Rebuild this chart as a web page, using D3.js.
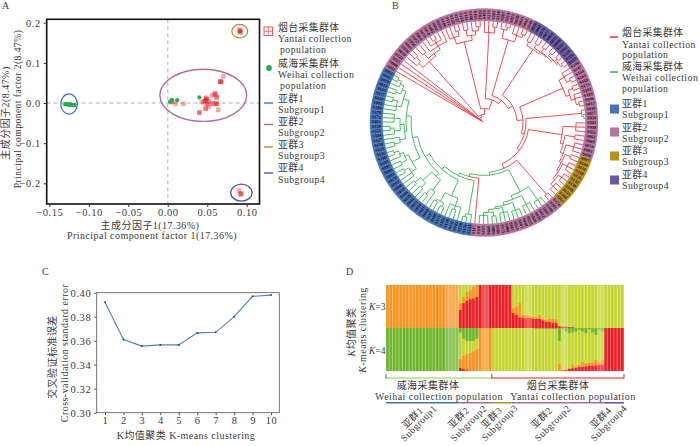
<!DOCTYPE html>
<html><head><meta charset="utf-8">
<script src="https://cdn.jsdelivr.net/npm/d3@7"></script>
<style>
html,body{margin:0;padding:0;background:#fff}
text{font-family:"Liberation Serif","Noto Sans CJK SC",serif;fill:#3a3a3a;letter-spacing:.45px}
</style></head><body><div id="c"></div>
<script>
// ---------- shared ----------
const sgColors = {1:"#4472b8",2:"#b5729d",3:"#b78f1b",4:"#6a58a6"};
const sgLine = {1:"#3f74b8",2:"#b0689a",3:"#b98a2a",4:"#5e4fa2"};
// ---------- panel A ----------
const yantaiX = [.0916,.0916,.0916,.0912,.092,.067,.067,.0665,.0675,.0705,.06,.06,.0595,.056,.062,.062,.0486,.0486,.049,.048,.046,.062,.062,.061,.057,.057,.049,.043,.052,.048,.048,.051,.064,.04,.04,.01,.02,.0925,.0925,.093,.09,.052,.05,.047,.006,.004];
const yantaiY = [.18,.18,.177,.182,.176,.053,.053,.054,.052,.0665,.022,.024,.021,.019,.013,.015,.011,.013,.009,.006,.005,-.002,-.002,-.001,-.002,-.001,-.002,.002,-.01,-.014,-.014,-.003,-.017,-.024,-.024,-.002,-.002,-.227,-.227,-.225,-.218,.004,.007,.003,.003,.002];
const weihaiX = [.005,.003,.005,.012,.04,-.13,-.129,-.128,-.127,-.126,-.125,-.124,-.123,-.122,-.121,-.12,-.119,-.118];
const weihaiY = [.006,.003,.008,.007,.014,-.003,-.003,-.003,-.003,-.004,-.004,-.004,-.004,-.004,-.005,-.005,-.005,-.005];
const ellipseCx = [-.125,.045,.0912,.0933];
const ellipseCy = [-.0025,.019,.179,-.2233];
const ellipseRx = [.0105,.055,.0101,.0135];
const ellipseRy = [.025,.065,.0167,.021];
const ellipseSg = [1,2,3,4];
const xTicksA = [-.15,-.10,-.05,0,.05,.10];
const yTicksA = [-.2,-.1,0,.1,.2];
// ---------- panel C ----------
const kValues = [1,2,3,4,5,6,7,8,9,10];
const cvError = [.392,.361,.3555,.3565,.3565,.3665,.367,.38,.397,.398];
const yTicksC = [.30,.32,.34,.36,.38,.40];
// ---------- panel D ----------
const k3Red = [0,0,0,0,0,0,0,0,0,0,0,0,0,0,0,0,0,0,0,0,0,0,.42,.58,.64,.67,.69,.73,1,1,1,1,1,1,1,1,1,1,.35,.31,.25,.23,.23,.23,.22,.21,.21,.18,.15,.15,.13,.115,.04,.03,.03,.02,.02,.01,0,0,0,0,0,0,0,0,0,0,0,0,0,0];
const k3Orange = [1,1,1,1,1,1,1,1,1,1,1,1,1,1,1,1,1,1,1,1,1,1,.16,.15,.21,.21,.27,.27,0,0,0,0,0,0,0,0,0,0,.11,.19,.33,.08,.08,.06,.04,.06,.09,.03,.04,.06,.08,.10,.02,.01,.01,.01,0,0,0,0,0,0,0,0,0,0,0,0,0,0,0,0];
const k4Red = [0,0,0,0,0,0,0,0,0,0,0,0,0,0,0,0,0,0,0,0,0,0,.08,.05,.03,0,0,0,0,0,0,0,0,0,0,0,0,0,0,0,0,0,0,0,0,0,0,0,0,0,0,0,0,.02,.03,.05,.065,.08,.1,.105,.11,.125,.13,.13,.14,.14,1,1,1,1,1,1];
const k4Orange = [0,0,0,0,0,0,0,0,0,0,0,0,0,0,0,0,0,0,0,0,0,0,.2,.31,.37,.42,.46,.52,1,1,1,1,0,0,0,0,0,0,0,0,0,0,0,0,0,0,0,0,0,0,0,0,.18,.01,.01,.015,.075,.03,.04,.11,.07,.075,.086,.134,.076,.116,0,0,0,0,0,0];
const k4Green = [1,1,1,1,1,1,1,1,1,1,1,1,1,1,1,1,1,1,1,1,1,1,.1,.25,.3,.3,.3,.25,0,0,0,0,0,0,0,0,0,0,0,0,0,0,0,0,0,.02,.02,.02,.02,.02,.02,.02,.3,.02,.08,.12,.1,.08,.04,.08,.12,.03,.1,.16,.04,.08,0,0,0,0,0,0];
const paleBars = [18,19,20,21,29,30,42,43,53,54,64,65];
const dSubgroups = [1,2,3,2,4];
const dCounts = [22,10,6,28,6];
const dPopCounts = [32,40];
// ---------- panel B ----------
const ringSubgroups = [2,4,2,3,2,1];
const ringCounts = [35,12,21,11,20,45];
const cladeA=['r',82,['r',88,'r',['r',94,'r','r']],['r',85,['r',91,'r','r'],['r',89,'r',['r',93,'r',['r',96,'r','r'],'r'],'r']]];
const cladeB=['r',83,['r',90,'r','r',['r',95,'r','r']],['r',88,['r',94,'r','r'],['r',92,'r',['r',96,'r','r']]]];
const cladeC1=['r',90,'r','r',['r',96,'r','r']];
const cladeC2=['r',86,['r',95,'r',['r',98,'r','r']],['r',93,'r','r',['r',96,'r','r']]];
const cladeD=['r',88,['r',92,'r','r'],['r',90,['r',94,'r','r'],['r',91,['r',95,'r','r'],['r',93,['r',96,'r','r'],['r',95,['r',97,'r','r'],['r',97,'r','r']]]]]];
const cladeE=['r',86,['r',92,'r','r',['r',96,'r','r']],['r',90,['r',95,'r','r'],['r',94,'r','r',['r',97,'r','r']]]];
const cladeM=['r',98,'r',['g',100,'g','g']];
const cladeF=['r',79,['r',92,'r','r','r'],['r',82,['r',92,'r','r'],['r',85,['r',93,'r','r','r'],['r',87,['r',93,'r','r'],['r',89,['r',94,'r','r','r'],['r',91,['r',95,'r','r','r'],['r',94,'r','r','r']]]]]]];
const cladeR2=['r',95,'r','r'];
const cladeG17=['g',78,['g',94,'g','g','g'],['g',82,['g',92,'g','g','g'],['g',85,['g',93,'g','g','g'],['g',87,['g',92,'g','g','g'],['g',90,['g',94,'g','g'],['g',93,'g','g','g']]]]]];
const b1=['g',93,'g',['g',96,'g','g']];
const b2=['g',80,['g',88,'g',['g',92,'g','g'],'g'],['g',90,['g',94,'g','g'],['g',92,'g','g']]];
const b3=['g',72,['g',85,'g',['g',92,'g','g']],['g',84,['g',90,'g','g'],['g',91,'g','g']]];
const b4=['g',82,['g',88,'g','g',['g',93,'g','g']],['g',86,['g',92,'g','g'],['g',90,'g',['g',95,'g','g']]]];
const b5=['g',80,['g',86,['g',92,'g','g'],'g'],['g',84,['g',90,'g',['g',94,'g','g']],['g',90,'g','g','g']]];
const b6=['g',84,['g',89,'g','g',['g',94,'g','g']],['g',88,['g',93,'g','g'],['g',92,'g',['g',96,'g','g']]]];
const blueClade=['g',59,b1,['g',63,b2,['g',68,b3,['g',73,b4,['g',78,b5,b6]]]]];
const treeRoot=['r',1.5,'r',['r',3,'r',['r',4.5,'r',['r',6,'r',['r',8,cladeA,['r',14,cladeB,['r',24,cladeC1,['r',28,cladeC2,['r',33,cladeD,['r',39,cladeE,['r',42,cladeM,['r',45,cladeF,['r',50,cladeR2,['g',53,cladeG17,['g',56,'r',blueClade]]]]]]]]]]]]]]];

// ---------- drawing ----------
const svg=d3.select("#c").append("svg").attr("width",700).attr("height",446).style("display","block");
const RED="#ee1c25",GRN="#22b14c";
function label(g,x,y,t,o={}){
  const n=g.append("text").attr("x",x).attr("y",y).attr("font-size",o.size||10.5).attr("text-anchor",o.anchor||"start").text(t);
  if(o.rot!==undefined) n.attr("transform",`rotate(${o.rot} ${x} ${y})`);
  if(o.ls!==undefined) n.style("letter-spacing",o.ls+"px");
  return n;
}
label(svg,2,9,"A",{size:10});label(svg,392,9,"B",{size:10});label(svg,42,275,"C",{size:10});label(svg,346,275,"D",{size:10});

// Panel A
{
 const g=svg.append("g");
 const x=d3.scaleLinear().domain([-.15,.10]).range([49.3,246.7]);
 const y=d3.scaleLinear().domain([-.2,.2]).range([183.3,22.7]);
 const L=46.7,R=259.5,T=19.3,B=204;
 g.append("line").attr("x1",x(0)).attr("x2",x(0)).attr("y1",T).attr("y2",B).attr("stroke","#c9c9c9").attr("stroke-width",1.4).attr("stroke-dasharray","4 3");
 g.append("line").attr("x1",L).attr("x2",R).attr("y1",y(0)).attr("y2",y(0)).attr("stroke","#c9c9c9").attr("stroke-width",1.4).attr("stroke-dasharray","4 3");
 g.selectAll("rect.y").data(yantaiX).join("rect").attr("class","y").attr("x",d=>x(d)-2.3).attr("y",(d,i)=>y(yantaiY[i])-2.3).attr("width",4.6).attr("height",4.6).attr("fill",RED).attr("fill-opacity",.38);
 g.selectAll("circle.w").data(weihaiX).join("circle").attr("class","w").attr("cx",d=>x(d)).attr("cy",(d,i)=>y(weihaiY[i])).attr("r",2.1).attr("fill",GRN);
 ellipseCx.forEach((c,i)=>{
  g.append("ellipse").attr("cx",x(c)).attr("cy",y(ellipseCy[i])).attr("rx",x(ellipseRx[i])-x(0)).attr("ry",y(0)-y(ellipseRy[i])).attr("fill","none").attr("stroke",sgLine[ellipseSg[i]]).attr("stroke-width",1.3);
 });
 g.append("rect").attr("x",L).attr("y",T).attr("width",R-L).attr("height",B-T).attr("fill","none").attr("stroke","#111").attr("stroke-width",1.6);
 const ax=g.append("g").attr("transform",`translate(0,${B})`).call(d3.axisBottom(x).tickValues(xTicksA).tickSize(3).tickFormat(d3.format(".2f")));
 const ay=g.append("g").attr("transform",`translate(${L},0)`).call(d3.axisLeft(y).tickValues(yTicksA).tickSize(3).tickFormat(d3.format(".1f")));
 [ax,ay].forEach(a=>{a.select(".domain").remove();a.selectAll(".tick line").attr("stroke","#333");a.selectAll("text").style("font-size","10.5px").style("letter-spacing",".55px")});
 ax.selectAll("text").attr("dy",".55em");
 label(g,150,229,"主成分因子1(17.36%)",{anchor:"middle",size:10});
 label(g,152,238.5,"Principal component factor 1(17.36%)",{anchor:"middle",size:10});
 label(g,9,113,"主成分因子2(8.47%)",{anchor:"middle",size:10,rot:-90});
 label(g,21,109,"Principal component factor 2(8.47%)",{anchor:"middle",size:9.6,rot:-90});
 // legend
 const lg=g.append("g");
 const sq=lg.append("g").attr("transform","translate(264,27)");
 sq.append("rect").attr("width",8.5).attr("height",8.5).attr("fill","#fff").attr("stroke","#f0555b");
 sq.append("path").attr("d","M4.25 0V8.5M0 4.25H8.5").attr("stroke","#f0555b").attr("stroke-width",.8);
 lg.append("circle").attr("cx",269).attr("cy",68).attr("r",2.9).attr("fill",GRN);
 [["烟台采集群体",278,31],["Yantai collection",278,42],["population",280,53],["威海采集群体",278,67],["Weihai collection",278,78],["population",280,89],["亚群1",278,102],["Subgroup1",278,113],["亚群2",278,125],["Subgroup2",278,136],["亚群3",278,148],["Subgroup3",278,159],["亚群4",278,171],["Subgroup4",278,183]].forEach(t=>label(lg,t[1],t[2],t[0],{size:9.8}));
 [[1,103],[2,124.5],[3,147],[4,173]].forEach(d=>lg.append("line").attr("x1",264).attr("x2",273).attr("y1",d[1]).attr("y2",d[1]).attr("stroke",sgLine[d[0]]).attr("stroke-width",1.4));
}

// Panel B
{
 const cx=484,cy=122.5,rIn=101.5,rOut=114;
 const g=svg.append("g").attr("transform",`translate(${cx},${cy})`);
 let leaves=[];
 const build=(n,par)=>{
  if(typeof n==="string"){const o={c:n,r:rIn,par,leaf:true};o.i=leaves.length;leaves.push(o);return o;}
  const o={c:n[0],r:n[1],par,ch:[]};
  n.slice(2).forEach(k=>o.ch.push(build(k,o)));
  return o;
 };
 const root=build(treeRoot,null);
 const N=leaves.length;
 const angS=d3.scaleLinear().domain([0,N]).range([299,659]);
 const setA=o=>{ if(o.leaf){o.a=angS(o.i+.5);} else {o.ch.forEach(setA);o.a=d3.mean(o.ch,k=>k.a);} };
 setA(root);
 const rad=d=>d*Math.PI/180;
 const pt=(r,a)=>[r*Math.sin(rad(a)),-r*Math.cos(rad(a))];
 const links=[];
 const walk=o=>{ (o.ch||[]).forEach(k=>{
   const p=d3.path();
   const a1=rad(o.a-90),a2=rad(k.a-90);
   const s=pt(o.r,o.a);p.moveTo(s[0],s[1]);
   p.arc(0,0,o.r,a1,a2,k.a<o.a);
   const e=pt(k.r,k.a);p.lineTo(e[0],e[1]);
   links.push({d:p.toString(),c:k.c});
   walk(k);
 });};
 walk(root);
 g.selectAll("path.l").data(links.filter(d=>d.c==="g")).join("path").attr("class","l").attr("d",d=>d.d).attr("fill","none").attr("stroke","#35b34f").attr("stroke-width",.9);
 g.selectAll("path.m").data(links.filter(d=>d.c==="r")).join("path").attr("class","m").attr("d",d=>d.d).attr("fill","none").attr("stroke","#ee3a43").attr("stroke-width",.9);
 // ring
 const sgOf=[];ringSubgroups.forEach((s,i)=>{for(let k=0;k<ringCounts[i];k++)sgOf.push(s);});
 const arc=d3.arc().innerRadius(rIn).outerRadius(rOut);
 g.selectAll("path.c").data(leaves).join("path").attr("class","c")
  .attr("d",d=>arc({startAngle:rad(angS(d.i)),endAngle:rad(angS(d.i+1))}))
  .attr("fill",d=>sgColors[sgOf[d.i]||2]).attr("stroke",d=>sgColors[sgOf[d.i]||2]).attr("stroke-width",.3);
 g.selectAll("text.s").data(leaves).join("text").attr("class","s")
  .attr("transform",d=>{const a=d.a;const p=pt((rIn+rOut)/2,a);const flip=((a%360)>180);return `translate(${p[0]},${p[1]}) rotate(${flip?a+90:a-90})`;})
  .attr("text-anchor","middle").attr("dominant-baseline","middle").style("font-size","4.4px").style("letter-spacing","0").style("font-weight","bold")
  .style("fill","#1b1420").text(d=>"S"+String(d.i*7%190+1).padStart(3,"0"));
 // legend
 const lg=svg.append("g");
 [["烟台采集群体",622,36],["Yantai collection",622,47.5],["population",622,58],["威海采集群体",622,70],["Weihai collection",622,81],["population",622,92],["亚群1",622,107],["Subgroup1",622,118],["亚群2",622,131],["Subgroup2",622,142],["亚群3",622,154],["Subgroup3",622,165],["亚群4",622,178],["Subgroup4",622,189]].forEach(t=>label(lg,t[1],t[2],t[0],{size:9.8}));
 lg.append("line").attr("x1",610).attr("x2",618).attr("y1",37).attr("y2",37).attr("stroke",RED).attr("stroke-width",1.4);
 lg.append("line").attr("x1",610).attr("x2",618).attr("y1",72).attr("y2",72).attr("stroke",GRN).attr("stroke-width",1.4);
 [[1,109],[2,132],[3,156],[4,180]].forEach(d=>lg.append("rect").attr("x",610).attr("y",d[1]-4.5).attr("width",9).attr("height",9).attr("fill",sgColors[d[0]]));
}

// Panel C
{
 const g=svg.append("g");
 const x=d3.scaleLinear().domain([1,10]).range([105,271]);
 const y=d3.scaleLinear().domain([.3,.4]).range([412.7,292.7]);
 const L=96.7,R=279.3,T=292.7,B=412.7;
 g.append("rect").attr("x",L).attr("y",T).attr("width",R-L).attr("height",B-T).attr("fill","none").attr("stroke","#666").attr("stroke-width",.9);
 g.append("path").attr("d",d3.line().x((d,i)=>x(kValues[i])).y(d=>y(d))(cvError)).attr("fill","none").attr("stroke","#4a84bb").attr("stroke-width",1.1);
 g.selectAll("circle").data(cvError).join("circle").attr("cx",(d,i)=>x(kValues[i])).attr("cy",d=>y(d)).attr("r",1).attr("fill","#1f4f8f");
 const ax=g.append("g").attr("transform",`translate(0,${B})`).call(d3.axisBottom(x).tickValues(kValues).tickSize(2.5).tickFormat(d3.format("d")));
 const ay=g.append("g").attr("transform",`translate(${L},0)`).call(d3.axisLeft(y).tickValues(yTicksC).tickSize(2.5).tickFormat(d3.format(".2f")));
 [ax,ay].forEach(a=>{a.select(".domain").remove();a.selectAll(".tick line").attr("stroke","#555");a.selectAll("text").style("font-size","10.5px").style("letter-spacing",".55px")});
 ax.selectAll("text").attr("dy",".6em");
 label(g,186,438.5,"K均值聚类 K-means clustering",{anchor:"middle",size:10});
 label(g,56,357,"交叉验证标准误差",{anchor:"middle",size:10,rot:-90});
 label(g,68,353,"Cross-validation standard error",{anchor:"middle",size:10,rot:-90});
}

// Panel D
{
 const g=svg.append("g");
 const idx=d3.range(k3Red.length);
 const x=d3.scaleBand().domain(idx).range([386,624]).padding(0);
 const h=x.bandwidth();
 const y3=d3.scaleLinear().domain([0,1]).range([328,285]);
 const y4=d3.scaleLinear().domain([0,1]).range([371,328]);
 const cOrange="#f7931e",cRed="#ed1c24",cLime="#c4d62e",cGreen="#6cb52b";
 const t3=idx.map(i=>({i,red:k3Red[i],orange:k3Orange[i],lime:Math.max(0,1-k3Red[i]-k3Orange[i])}));
 const t4=idx.map(i=>({i,red:k4Red[i],orange:k4Orange[i],lime:Math.max(0,1-k4Red[i]-k4Orange[i]-k4Green[i]),green:k4Green[i]}));
 const col={red:cRed,orange:cOrange,lime:cLime,green:cGreen};
 const drawStack=(table,keys,y)=>{
  d3.stack().keys(keys)(table).forEach(s=>{
   const sel=g.append("g").attr("fill",col[s.key]);
   s.forEach(d=>{
    const i=d.data.i,pale=paleBars.includes(i);
    if(d[1]-d[0]<=0)return;
    sel.append("rect").attr("x",x(i)).attr("width",h+.05).attr("y",y(d[1])).attr("height",y(d[0])-y(d[1])).attr("fill-opacity",pale?.62:.72);
    sel.append("rect").attr("x",x(i)+.4).attr("width",h-1.2).attr("y",y(d[1])).attr("height",y(d[0])-y(d[1])).attr("fill-opacity",pale?.45:1);
   });
  });
 };
 drawStack(t3,["red","orange","lime"],y3);
 drawStack(t4,["red","orange","lime","green"],y4);
 // K labels
 const kl=(yy,v)=>{const t=g.append("text").attr("x",385.5).attr("y",yy).attr("text-anchor","end").attr("font-size",9.5).style("letter-spacing","0");t.append("tspan").attr("font-style","italic").text("K");t.append("tspan").text("="+v);};
 kl(310,3);kl(354,4);
 const v1=g.append("text").attr("transform","translate(355,332) rotate(-90)").attr("text-anchor","middle").attr("font-size",10);
 v1.append("tspan").attr("font-style","italic").text("K");v1.append("tspan").text("均值聚类");
 const v2=g.append("text").attr("transform","translate(366,330) rotate(-90)").attr("text-anchor","middle").attr("font-size",10);
 v2.append("tspan").attr("font-style","italic").text("K");v2.append("tspan").text("-means clustering");
 // population brackets
 let s=0;
 dPopCounts.forEach((n,i)=>{
  const a=x(s),b=x(s+n-1)+h;
  g.append("line").attr("x1",a).attr("x2",b).attr("y1",378).attr("y2",378).attr("stroke",i?RED:"#9cc653").attr("stroke-width",1.1);
  g.append("line").attr("x1",a).attr("x2",a).attr("y1",374).attr("y2",378.5).attr("stroke","#333").attr("stroke-width",.8);
  if(i)g.append("line").attr("x1",b).attr("x2",b).attr("y1",374).attr("y2",378.5).attr("stroke","#333").attr("stroke-width",.8);
  s+=n;
 });
 label(g,428,389,"威海采集群体",{anchor:"middle",size:10});
 label(g,558,389,"烟台采集群体",{anchor:"middle",size:10});
 label(g,439,399.5,"Weihai collection population",{anchor:"middle",size:10});
 label(g,573,399.5,"Yantai collection population",{anchor:"middle",size:10});
 // subgroup lines
 s=0;
 dCounts.forEach((n,i)=>{
  g.append("line").attr("x1",x(s)).attr("x2",x(s+n-1)+h).attr("y1",402.8).attr("y2",402.8).attr("stroke",sgLine[dSubgroups[i]]).attr("stroke-width",1.5);
  s+=n;
 });
 [["亚群1",415,420],["Subgroup1",421,425.5],["亚群2",461,420],["Subgroup2",471,425.5],["亚群3",494,420],["Subgroup3",502,425],["亚群2",544,420],["Subgroup2",555,425.5],["亚群4",603,420],["Subgroup4",611,425.5]].forEach(t=>{
   label(g,t[1],t[2],t[0],{anchor:"middle",size:9.6,rot:-45,ls:.5});
 });
}
</script></body></html>
